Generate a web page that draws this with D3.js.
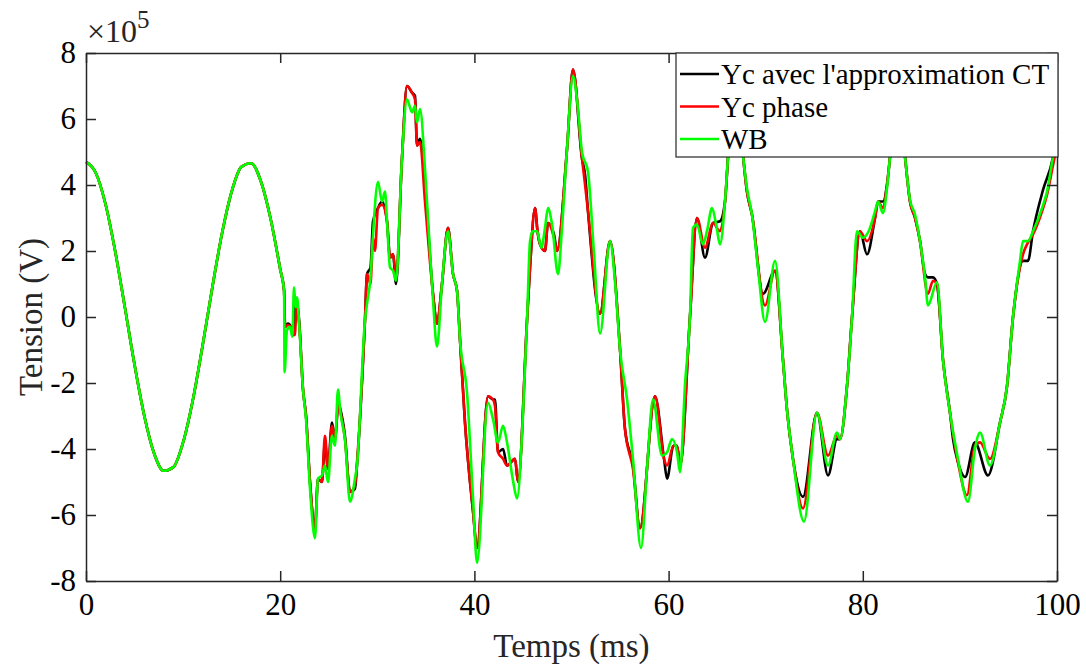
<!DOCTYPE html>
<html>
<head>
<meta charset="utf-8">
<script src="https://cdn.jsdelivr.net/npm/d3@7"></script>
<style>
	body { margin: 0; background: #fff; }
	.axis path, .axis line { stroke: #262626; stroke-width: 1.5; }
	.axis text { font-family: "Liberation Serif", "Times New Roman", serif; font-size: 31px; fill: #000; }
	.axis-label { font-family: "Liberation Serif", "Times New Roman", serif; font-size: 33px; fill: #262626; }
	.legend-text { font-family: "Liberation Serif", "Times New Roman", serif; font-size: 29px; fill: #000; }
</style>
</head>
<body>
<div id="chart"></div>
<script>
// values are in units of 1e5 V, time in ms
const yExponent = 5;
const xTicks = [0, 20, 40, 60, 80, 100];
const yTicks = [-8, -6, -4, -2, 0, 2, 4, 6, 8];

// first part of the record, the same for the three models
const sineTime = [0, 1, 2, 3, 4, 5, 6, 7, 8, 9, 10, 11, 12, 13, 14, 15, 16, 17, 18, 19, 20, 20.4];
const sineValue = [4.7, 4.37, 3.43, 2.0, 0.3, -1.45, -2.99, -4.12, -4.66, -4.55, -3.8, -2.52, -0.88, 0.88, 2.52, 3.8, 4.55, 4.66, 4.12, 2.99, 1.45, 0.8];

// Yc avec l'approximation CT
const ycCT = [[20.5,-0.3],[20.8,-0.2],[21.1,-0.3],[21.35,-0.55],[21.55,0.5],[21.75,0.4],[21.95,-0.1],[22.35,-2.2],[22.66,-3.0],[23.07,-5.0],[23.58,-6.4],[23.89,-4.9],[24.3,-5.0],[24.61,-3.8],[24.92,-4.6],[25.33,-3.2],[25.64,-3.7],[26.0,-2.6],[26.16,-2.75],[26.67,-3.6],[27.19,-5.3],[27.7,-5.2],[27.91,-4.5],[28.73,-0.1],[28.94,1.3],[29.3,1.5],[29.56,2.9],[30.07,3.3],[30.48,3.5],[31.0,2.9],[31.31,1.8],[31.62,1.9],[31.93,1.0],[32.54,4.8],[33.06,7.0],[33.57,6.8],[33.88,6.7],[34.09,5.2],[34.4,5.4],[34.91,4.0],[35.74,0.7],[36.15,-0.2],[36.66,1.0],[37.28,2.7],[37.8,1.3],[38.21,0.8],[38.52,-0.7],[39.03,-3.2],[39.86,-5.9],[40.27,-7.0],[41.4,-2.4],[41.92,-2.5],[42.12,-2.5],[42.43,-4.1],[42.95,-4.0],[43.36,-4.5],[44.18,-4.3],[44.49,-5.0],[45.42,-0.1],[45.73,1.5],[46.24,3.3],[46.5,2.6],[46.76,2.2],[47.27,2.0],[47.58,2.85],[48.2,2.5],[48.51,2.0],[49.54,5.1],[50.15,7.5],[51.08,4.8],[51.4,4.3],[51.7,3.2],[52.94,0.1],[53.97,2.3],[55.0,-1.0],[55.51,-3.4],[56.33,-4.5],[57.05,-6.4],[58.6,-2.4],[59.53,-4.3],[59.84,-4.9],[60.5,-3.9],[60.87,-3.9],[61.2,-4.5],[62.2,0.0],[62.92,3.0],[63.75,1.8],[64.57,2.85],[65.29,2.9],[65.81,3.5],[66.12,4.85],[66.84,7.6],[67.66,4.9],[68.07,3.8],[68.59,3.1],[69.72,0.7],[70.96,1.4],[71.78,-1.3],[72.19,-2.8],[72.81,-4.3],[73.84,-5.45],[75.28,-2.9],[76.42,-4.8],[77.34,-3.7],[77.65,-3.7],[78.37,-2.1],[78.89,0.0],[79.71,2.6],[80.43,1.9],[81.26,3.0],[81.57,3.5],[82.08,3.5],[82.49,4.0],[82.8,4.85],[83.5,7.6],[84.35,4.85],[84.86,3.5],[85.38,3.0],[85.89,2.3],[86.41,1.3],[86.71,1.2],[87.23,1.2],[87.64,1.0],[88.26,-1.3],[88.98,-2.9],[89.29,-3.7],[89.8,-4.4],[90.53,-4.85],[91.55,-3.8],[92.89,-4.8],[94.13,-3.2],[94.85,-2.1],[95.47,0.0],[96.5,1.7],[97.01,1.7],[97.53,2.6],[98.56,3.85],[99.59,4.85],[100,5.6]];

// Yc phase
const ycPhase = [[20.5,-0.3],[20.8,-0.25],[21.1,-0.3],[21.5,-0.55],[21.7,0.3],[21.95,-0.2],[22.35,-2.2],[22.66,-3.0],[23.07,-5.0],[23.58,-6.4],[23.89,-4.9],[24.3,-5.0],[24.61,-3.6],[24.92,-4.6],[25.33,-3.3],[25.64,-3.7],[26.0,-2.6],[26.16,-2.8],[26.67,-3.7],[27.19,-5.3],[27.7,-5.1],[27.91,-4.4],[28.73,-0.1],[28.94,1.3],[29.3,1.0],[29.56,2.4],[29.76,2.0],[30.07,3.3],[30.48,3.4],[31.0,2.9],[31.31,1.8],[31.62,1.9],[31.93,1.2],[32.54,4.8],[33.06,7.0],[33.57,6.8],[33.88,6.6],[34.09,5.2],[34.4,5.3],[34.91,3.5],[35.74,0.7],[36.15,-0.2],[36.66,1.0],[37.28,2.7],[37.8,1.3],[38.21,0.8],[38.52,-0.7],[39.03,-3.2],[39.86,-5.9],[40.27,-7.0],[41.4,-2.4],[41.92,-2.5],[42.12,-2.7],[42.43,-4.1],[42.95,-4.3],[43.36,-4.5],[44.18,-4.3],[44.49,-5.0],[45.42,-0.1],[45.73,1.5],[46.24,3.3],[46.5,2.6],[46.76,2.2],[47.27,2.0],[47.58,2.85],[48.2,2.4],[48.51,2.0],[49.54,5.1],[50.15,7.5],[51.08,4.8],[51.4,4.0],[51.7,3.2],[52.94,0.1],[53.97,2.3],[55.0,-1.0],[55.51,-3.4],[56.33,-4.6],[57.05,-6.4],[58.6,-2.4],[59.53,-4.3],[59.84,-4.5],[60.5,-3.9],[60.87,-3.9],[61.2,-4.5],[62.2,0.0],[62.92,3.0],[63.75,2.1],[64.57,2.85],[65.29,2.6],[65.81,3.5],[66.12,4.85],[66.84,7.6],[67.66,4.9],[68.07,3.8],[68.59,3.1],[69.93,0.35],[70.96,1.4],[71.78,-1.3],[72.19,-2.8],[72.81,-4.3],[73.84,-5.8],[75.28,-2.9],[76.42,-4.2],[77.34,-3.6],[77.65,-3.7],[78.37,-2.1],[78.89,0.0],[79.71,2.6],[80.43,2.3],[81.26,3.0],[81.57,3.5],[82.08,3.3],[82.49,4.0],[82.8,4.85],[83.5,7.6],[84.35,4.85],[84.86,3.5],[85.38,3.0],[85.89,2.3],[86.71,0.7],[87.23,1.1],[87.64,1.0],[88.26,-1.3],[88.98,-2.9],[89.8,-4.4],[90.73,-5.4],[91.55,-3.9],[92.07,-3.8],[93.1,-4.3],[94.13,-3.2],[94.85,-2.1],[95.47,0.0],[96.5,1.9],[96.91,2.2],[97.53,2.5],[98.46,3.2],[98.97,3.7],[99.59,4.6],[100,5.2]];

// WB
const wb = [[20.45,-1.67],[20.7,-0.4],[21.0,-0.3],[21.25,-0.6],[21.42,0.9],[21.6,0.3],[21.73,0.6],[21.95,-0.2],[22.35,-2.2],[22.66,-3.1],[23.07,-5.2],[23.58,-6.7],[23.89,-4.9],[24.3,-4.8],[24.6,-4.5],[24.92,-5.0],[25.33,-3.6],[25.64,-3.9],[25.95,-2.2],[26.2,-2.9],[26.67,-3.7],[27.19,-5.6],[27.7,-4.9],[27.91,-4.5],[28.73,-0.1],[28.94,0.4],[29.3,1.2],[29.56,2.5],[30.07,4.1],[30.48,3.5],[30.79,3.8],[31.0,2.9],[31.31,1.5],[31.62,1.4],[31.93,1.1],[32.54,4.8],[33.06,6.6],[33.57,6.2],[33.88,6.4],[34.09,5.9],[34.4,6.3],[34.91,4.5],[35.3,2.6],[35.74,0.5],[36.15,-0.9],[36.66,1.0],[37.28,2.6],[37.8,1.3],[38.21,0.8],[38.52,-0.7],[39.24,-2.3],[39.86,-5.5],[40.27,-7.45],[41.4,-2.6],[41.92,-3.1],[42.43,-3.8],[42.95,-3.3],[43.36,-3.8],[44.0,-5.0],[44.39,-5.5],[45.0,-3.0],[45.42,-0.1],[45.73,2.3],[46.0,2.6],[46.45,2.6],[46.9,2.1],[47.27,2.7],[47.58,3.3],[48.0,2.8],[48.61,1.3],[49.0,2.6],[49.54,5.1],[50.15,7.3],[50.6,6.5],[51.08,5.0],[51.7,4.4],[52.3,2.0],[52.94,-0.5],[53.97,2.3],[54.5,1.0],[55.0,-1.0],[55.72,-2.5],[56.33,-4.3],[57.16,-7.0],[57.8,-4.5],[58.39,-2.5],[59.32,-4.2],[59.84,-4.1],[60.35,-3.7],[60.87,-4.1],[61.17,-4.7],[61.7,-2.0],[62.2,0.0],[62.51,2.7],[62.92,2.8],[63.54,2.2],[63.95,2.6],[64.47,3.3],[64.9,2.8],[65.29,2.2],[65.81,3.5],[66.12,4.85],[66.84,7.6],[67.66,4.9],[68.07,3.9],[68.59,3.1],[69.2,1.5],[69.93,-0.15],[70.96,1.7],[71.78,-1.3],[72.19,-2.8],[72.81,-4.3],[73.94,-6.2],[75.28,-2.9],[76.42,-4.5],[77.34,-3.5],[77.65,-3.7],[78.37,-2.1],[78.89,0.0],[79.4,2.6],[80.02,2.4],[80.6,2.6],[81.26,3.2],[81.57,3.5],[82.08,3.15],[82.49,3.9],[82.8,4.85],[83.5,7.6],[84.35,4.85],[84.86,3.55],[85.38,3.1],[85.89,2.3],[86.41,1.2],[86.71,0.35],[87.64,1.05],[88.26,-1.3],[88.98,-2.9],[89.8,-4.3],[90.83,-5.6],[91.55,-4.0],[92.07,-3.5],[93.1,-4.5],[94.13,-3.2],[94.85,-2.1],[95.47,0.0],[96.19,1.7],[96.5,2.3],[97.01,2.3],[97.53,2.6],[98.46,3.3],[98.97,3.8],[99.59,4.85],[100,5.4]];

const seriesNames = ["Yc avec l'approximation CT", "Yc phase", "WB"];
const seriesColors = ["#000000", "#ff0000", "#00ff00"];
const seriesValues = [ycCT, ycPhase, wb];

function drawChart(chartWidth, chartHeight) {
	const $svg = d3.select("#chart")
		.append("svg")
		.attr("width", chartWidth)
		.attr("height", chartHeight);

	// margins leave space for tick labels and axis titles
	const margin = { top: 53, right: 29, bottom: 88, left: 86 };
	const width = chartWidth - margin.left - margin.right;
	const height = chartHeight - margin.top - margin.bottom;

	const $main = $svg.append("g")
		.attr("transform", `translate(${margin.left},${margin.top})`);

	const xScale = d3.scaleLinear().domain([0, 100]).range([0, width]);
	const yScale = d3.scaleLinear().domain([-8, 8]).range([height, 0]);

	// the start of each series is the common sinusoid
	const sinePoints = sineTime.map((t, i) => [t, sineValue[i]]);

	const lineGenerator = d3.line()
		.x(d => xScale(d[0]))
		.y(d => yScale(d[1]))
		.curve(d3.curveMonotoneX);

	const $lines = $main.append("g");
	seriesValues.forEach((values, i) => {
		$lines.append("path")
			.datum(sinePoints.concat(values))
			.attr("fill", "none")
			.attr("stroke", seriesColors[i])
			.attr("stroke-width", 2.6)
			.attr("stroke-linejoin", "round")
			.attr("d", lineGenerator);
	});

	// plain hyphen for negative labels, as in the original figure
	const plainFormat = d => String(d);

	// box axes, ticks pointing inside like matlab
	$main.append("g")
		.attr("class", "axis")
		.attr("transform", `translate(0,${height})`)
		.call(d3.axisBottom(xScale).tickValues(xTicks).tickSizeInner(-10).tickSizeOuter(0).tickPadding(12).tickFormat(plainFormat));
	$main.append("g")
		.attr("class", "axis")
		.call(d3.axisTop(xScale).tickValues(xTicks).tickSizeInner(-10).tickSizeOuter(0).tickFormat(""));
	$main.append("g")
		.attr("class", "axis")
		.call(d3.axisLeft(yScale).tickValues(yTicks).tickSizeInner(-10).tickSizeOuter(0).tickPadding(10).tickFormat(plainFormat));
	$main.append("g")
		.attr("class", "axis")
		.attr("transform", `translate(${width},0)`)
		.call(d3.axisRight(yScale).tickValues(yTicks).tickSizeInner(-10).tickSizeOuter(0).tickFormat(""));

	// exponent label
	const $exp = $main.append("text")
		.attr("class", "axis-label")
		.attr("x", 1)
		.attr("y", -11)
		.style("font-size", "32px")
		.text("\u00d710");
	$exp.append("tspan")
		.attr("dy", -14)
		.style("font-size", "25px")
		.text(yExponent);

	// axis titles
	$main.append("text")
		.attr("class", "axis-label")
		.attr("x", width / 2)
		.attr("y", height + 76)
		.attr("text-anchor", "middle")
		.text("Temps (ms)");
	$main.append("text")
		.attr("class", "axis-label")
		.attr("transform", `translate(${-44},${height / 2}) rotate(-90)`)
		.attr("text-anchor", "middle")
		.text("Tension (V)");

	// legend box, north east
	const legendWidth = 382, legendHeight = 104;
	const $legend = $main.append("g")
		.attr("transform", `translate(${width - legendWidth + 1},0)`);
	$legend.append("rect")
		.attr("width", legendWidth)
		.attr("height", legendHeight)
		.attr("fill", "#fff")
		.attr("stroke", "#262626")
		.attr("stroke-width", 1.2);
	seriesNames.forEach((name, i) => {
		const y = 21 + i * 32.5;
		$legend.append("line")
			.attr("x1", 4).attr("x2", 43)
			.attr("y1", y).attr("y2", y)
			.attr("stroke", seriesColors[i])
			.attr("stroke-width", 2.6);
		$legend.append("text")
			.attr("class", "legend-text")
			.attr("x", 45)
			.attr("y", y + 10)
			.text(name);
	});
}

drawChart(1086, 669);
</script>
</body>
</html>
